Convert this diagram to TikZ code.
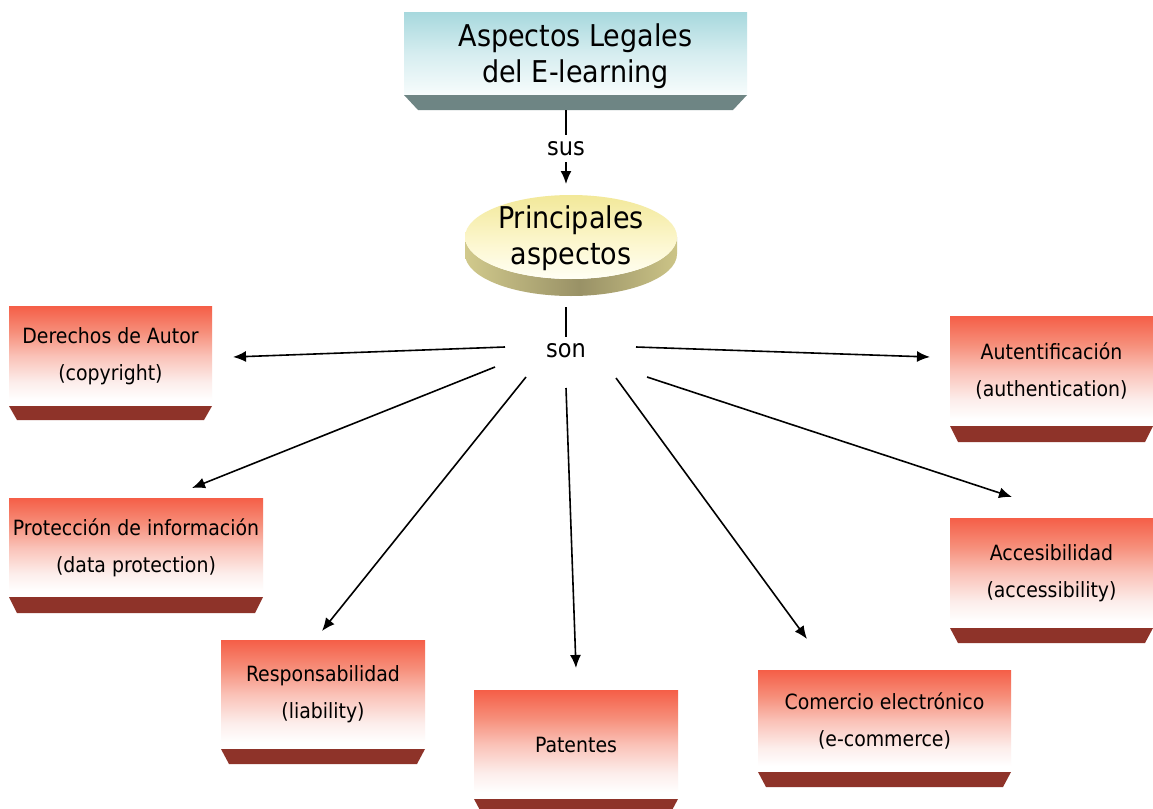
\documentclass[tikz,border=0pt]{standalone}
\usepackage{fontspec}
\setmainfont{DejaVu Sans Condensed}
\usetikzlibrary{arrows.meta}

% vertical fades (stops between 25bp and 75bp span the filled area)
\pgfdeclareverticalshading{redfade}{100bp}{%
  rgb(0bp)=(1,1,1); rgb(28bp)=(1,1,1); rgb(37bp)=(0.99,0.93,0.92);
  rgb(50bp)=(0.98,0.76,0.72); rgb(62bp)=(0.965,0.56,0.48);
  rgb(75bp)=(0.96,0.37,0.28); rgb(100bp)=(0.96,0.37,0.28)}
\pgfdeclareverticalshading{tealfade}{100bp}{%
  rgb(0bp)=(0.97,0.99,0.99); rgb(25bp)=(0.97,0.99,0.99);
  rgb(50bp)=(0.84,0.93,0.94); rgb(75bp)=(0.66,0.85,0.87); rgb(100bp)=(0.66,0.85,0.87)}
\pgfdeclareverticalshading{yellowfade}{100bp}{%
  rgb(0bp)=(1,1,0.96); rgb(25bp)=(1,1,0.96); rgb(45bp)=(0.99,0.97,0.82);
  rgb(75bp)=(0.95,0.91,0.60); rgb(100bp)=(0.95,0.91,0.60)}
\pgfdeclarehorizontalshading{olivefade}{100bp}{%
  rgb(0bp)=(0.82,0.79,0.55); rgb(25bp)=(0.82,0.79,0.55); rgb(52bp)=(0.60,0.57,0.40);
  rgb(75bp)=(0.80,0.77,0.53); rgb(100bp)=(0.80,0.77,0.53)}

\definecolor{redbase}{RGB}{142,51,41}
\definecolor{tealbase}{RGB}{110,133,132}

% shaded box with a bevelled base and a two-line caption
\newcommand\aspectbox[7]{%
  \shade[shading=redfade] (#2,#3) rectangle (#4,#5);
  \fill[redbase] (#2,#5) -- (#4,#5) -- ({#4-8},#6) -- ({#2+8},#6) -- cycle;
  \node[boxtext] (#1) at ({(#2+#4)/2},{(#3+#5)/2}) {#7};}

\begin{document}
\begin{tikzpicture}[x=1pt,y=-1pt,
  conn/.style={line width=1.6pt,-{Latex[length=13pt,width=11pt]}},
  plainconn/.style={line width=1.6pt},
  boxtext/.style={font=\fontsize{21}{37}\selectfont,align=center,inner sep=0pt},
  bigtext/.style={font=\fontsize{30}{36.5}\selectfont,align=center,inner sep=0pt},
  linktext/.style={font=\fontsize{25}{30}\selectfont,inner sep=0pt}]

\path[use as bounding box,fill=white] (0,0) rectangle (1153,808);

% title block
\shade[shading=tealfade] (404,13) rectangle (747,95);
\fill[tealbase] (404,95) -- (747,95) -- (733,110) -- (418,110) -- cycle;
\node[bigtext] (title) at (575.5,56) {Aspectos Legales\\del E-learning};

% disc
\shade[shading=olivefade] (465,237) arc[start angle=180,end angle=0,x radius=106,y radius=42]
  -- (677,254) arc[start angle=0,end angle=180,x radius=106,y radius=42] -- cycle;
\shade[shading=yellowfade] (571,237) ellipse[x radius=106,y radius=42];
\node[bigtext] (main) at (571,238) {Principales\\aspectos};

% linking words
\node[linktext] (sus) at (566,149) {sus};
\node[linktext] (son) at (566,350.5) {son};

% boxes
\aspectbox{autor}{9}{306}{212}{406}{420}{Derechos de Autor\\(copyright)}
\aspectbox{prot}{9}{498}{263}{597}{613}{Protección de información\\(data protection)}
\aspectbox{resp}{221}{640}{425}{749}{764}{Responsabilidad\\(liability)}
\aspectbox{pat}{474}{690}{678}{799}{814}{Patentes}
\aspectbox{com}{758}{670}{1011}{772}{787}{Comercio electrónico\\(e-commerce)}
\aspectbox{acc}{950}{518}{1153}{628}{643}{Accesibilidad\\(accessibility)}
\aspectbox{aut}{950}{316}{1153}{426}{442}{Autentificación\\(authentication)}

% connector ends
\coordinate (titleB) at (566,110);
\coordinate (susT) at (566,135);
\coordinate (susB) at (566,162);
\coordinate (mainT) at (566,184);
\coordinate (mainB) at (566,307);
\coordinate (sonT) at (566,337);

\coordinate (s1) at (505,347);  \coordinate (e1) at (233,357);
\coordinate (s2) at (495,367);  \coordinate (e2) at (192,488);
\coordinate (s3) at (526,377);  \coordinate (e3) at (322,631);
\coordinate (s4) at (566,388);  \coordinate (e4) at (576,668);
\coordinate (s5) at (616,378);  \coordinate (e5) at (807,639);
\coordinate (s6) at (647,377);  \coordinate (e6) at (1012,497);
\coordinate (s7) at (636,347);  \coordinate (e7) at (930,357);

\draw[plainconn] (titleB) -- (susT);
\draw[conn] (susB) -- (mainT);
\draw[plainconn] (mainB) -- (sonT);
\foreach \i in {1,...,7} \draw[conn] (s\i) -- (e\i);

\end{tikzpicture}
\end{document}
